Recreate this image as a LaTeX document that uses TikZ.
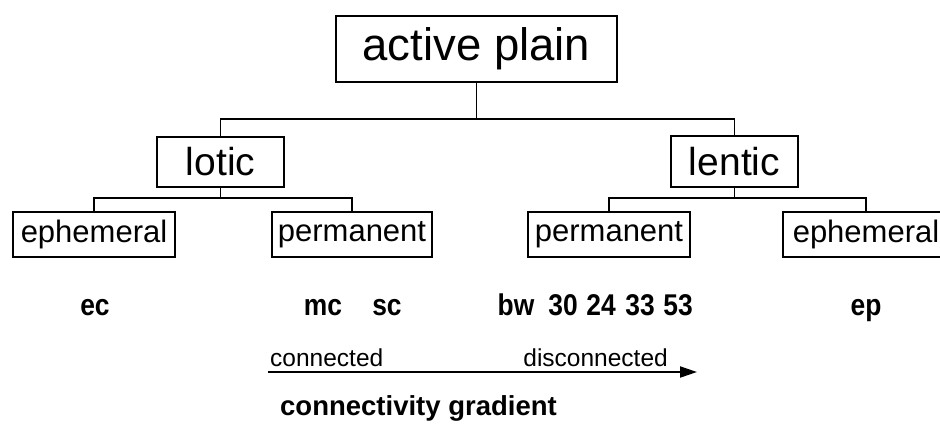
\documentclass[tikz,border=0pt]{standalone}
\usepackage{fontspec}
\setmainfont{Liberation Sans}
\newfontfamily\narrowsans[FakeStretch=0.88]{Liberation Sans}
\usetikzlibrary{arrows.meta}
\begin{document}
\begin{tikzpicture}[x=1pt,y=-1pt,
  box/.style={draw, line width=1.9pt, inner sep=0pt, align=center},
  link/.style={line width=1.9pt},
  site/.style={anchor=base, inner sep=0pt, font=\narrowsans\fontsize{30}{33}\selectfont\bfseries},
  gradlabel/.style={inner sep=0pt, font=\fontsize{24.5}{28}\selectfont}
]
% page frame
\fill[white] (0,0) rectangle (940,424);
\clip (0,0) rectangle (940,424);

% hierarchy boxes
\node[box, minimum width=281pt, minimum height=66pt, font=\fontsize{45.5}{50}\selectfont] (plain) at (476.5,49) {active plain};
\node[box, minimum width=127pt, minimum height=50pt, font=\fontsize{39}{44}\selectfont] (lotic) at (220.5,162) {lotic};
\node[box, minimum width=127pt, minimum height=51pt, font=\fontsize{39}{44}\selectfont] (lentic) at (734.5,161.5) {lentic};
\node[box, minimum width=162pt, minimum height=45pt, font=\fontsize{31}{35}\selectfont] (ephL) at (94,234.5) {ephemeral};
\node[box, minimum width=160pt, minimum height=45pt, font=\fontsize{31}{35}\selectfont] (permL) at (352,234.5) {permanent};
\node[box, minimum width=162pt, minimum height=45pt, font=\fontsize{31}{35}\selectfont] (permR) at (609,234.5) {permanent};
\node[box, minimum width=166pt, minimum height=45pt, font=\fontsize{31}{35}\selectfont] (ephR) at (866,234.5) {ephemeral};

% tree connectors
\draw[link] (plain.south) -- ++(0,36) coordinate (j0);
\draw[link] (lotic.north) |- (j0) -| (lentic.north);
\draw[link] (lotic.south) -- ++(0,10) coordinate (j1);
\draw[link] (ephL.north) |- (j1) -| (permL.north);
\draw[link] (lentic.south) -- ++(0,10) coordinate (j2);
\draw[link] (permR.north) |- (j2) -| (ephR.north);

% site codes
\node[site] (ec) at (95,315) {ec};
\node[site] (mc) at (323,315) {mc};
\node[site] (sc) at (387,315) {sc};
\node[site] (bw) at (516,315) {bw};
\node[site] (s30) at (563,315) {30};
\node[site] (s24) at (601,315) {24};
\node[site] (s33) at (640,315) {33};
\node[site] (s53) at (678,315) {53};
\node[site] (ep) at (866,315) {ep};

% connectivity gradient arrow
\coordinate (gstart) at (268,372);
\coordinate (gend) at (697,372);
\draw[line width=2pt, -{Triangle[length=17pt,width=11pt]}] (gstart) -- (gend);
\node[gradlabel, anchor=base west] (conn) at (270,366) {connected};
\node[gradlabel, anchor=base east] (disc) at (668,366) {disconnected};
\node[anchor=base west, inner sep=0pt, font=\fontsize{27.5}{30}\selectfont\bfseries] (gradient) at (280,415) {connectivity gradient};
\end{tikzpicture}
\end{document}
